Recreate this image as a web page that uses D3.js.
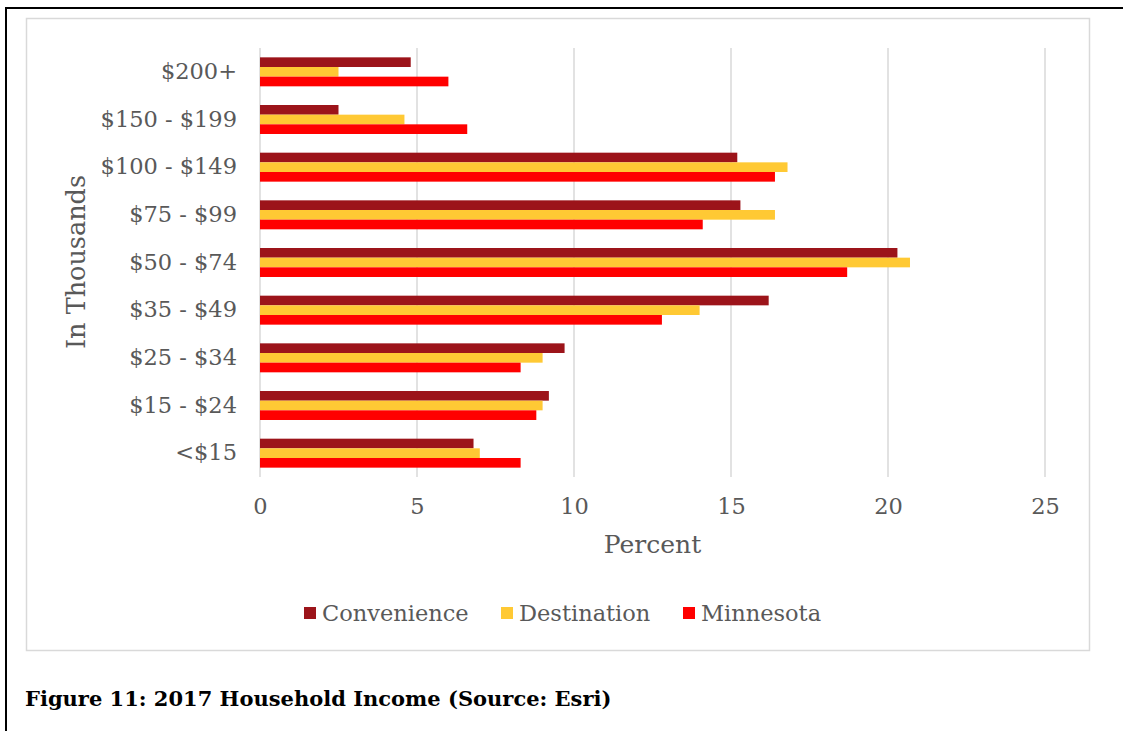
<!DOCTYPE html>
<html>
<head>
<meta charset="utf-8">
<script src="https://cdn.jsdelivr.net/npm/d3@7"></script>
<style>
  body { margin: 0; background: #fff; }
  text { font-family: "DejaVu Serif", serif; }
</style>
</head>
<body>
<div class="wrapper"></div>
<script>
const categories = ["$200+", "$150 - $199", "$100 - $149", "$75 - $99", "$50 - $74", "$35 - $49", "$25 - $34", "$15 - $24", "<$15"];
const seriesNames = ["Convenience", "Destination", "Minnesota"];
const convenience = [4.8, 2.5, 15.2, 15.3, 20.3, 16.2, 9.7, 9.2, 6.8];
const destination = [2.5, 4.6, 16.8, 16.4, 20.7, 14.0, 9.0, 9.0, 7.0];
const minnesota = [6.0, 6.6, 16.4, 14.1, 18.7, 12.8, 8.3, 8.8, 8.3];
const xTicks = [0, 5, 10, 15, 20, 25];
const colors = ["#9c141a", "#ffc934", "#ff0000"];

var width = 1123, height = 731;
var svg = d3.select(".wrapper").append("svg")
    .attr("width", width)
    .attr("height", height);

// page border and chart frame
svg.append("rect").attr("x", 6).attr("y", 8).attr("width", 1200).attr("height", 800)
    .attr("fill", "none").attr("stroke", "#000").attr("stroke-width", 2);
svg.append("rect").attr("x", 26.5).attr("y", 18.5).attr("width", 1063).attr("height", 632)
    .attr("fill", "#fff").attr("stroke", "#d9d9d9").attr("stroke-width", 1.5);

var plot = { left: 260, right: 1045, top: 48, bottom: 477 };

var x = d3.scaleLinear().domain([0, 25]).range([plot.left, plot.right]);
var y = d3.scaleBand().domain(categories).range([plot.top, plot.bottom])
    .paddingInner(0.392).paddingOuter(0.196);
var ySub = d3.scaleBand().domain(seriesNames).range([0, y.bandwidth()]);

// gridlines
svg.append("g").selectAll("line").data(xTicks).enter().append("line")
    .attr("x1", d => x(d)).attr("x2", d => x(d))
    .attr("y1", plot.top).attr("y2", plot.bottom)
    .attr("stroke", "#d9d9d9").attr("stroke-width", 1.5);

var rows = categories.map((c, i) => ({
  cat: c,
  vals: [convenience[i], destination[i], minnesota[i]]
}));

var groups = svg.append("g").selectAll("g").data(rows).enter().append("g")
    .attr("transform", d => "translate(0," + y(d.cat) + ")");

groups.selectAll("rect").data(d => d.vals.map((v, j) => ({ v: v, s: seriesNames[j], c: colors[j] })))
  .enter().append("rect")
    .attr("x", x(0))
    .attr("y", d => ySub(d.s))
    .attr("width", d => x(d.v) - x(0))
    .attr("height", ySub.bandwidth())
    .attr("fill", d => d.c);

// y axis labels
var yAxis = d3.axisLeft(y).tickSize(0).tickPadding(23);
var gy = svg.append("g").attr("transform", "translate(" + plot.left + ",0)").call(yAxis);
gy.select(".domain").remove();
gy.selectAll("text").attr("fill", "#595959").style("font-size", "22.5px")
    .style("font-family", "DejaVu Serif, serif");

// x axis labels
var xAxis = d3.axisBottom(x).tickValues(xTicks).tickSize(0).tickPadding(21);
var gx = svg.append("g").attr("transform", "translate(0," + plot.bottom + ")").call(xAxis);
gx.select(".domain").remove();
gx.selectAll("text").attr("fill", "#595959").style("font-size", "22.5px")
    .style("font-family", "DejaVu Serif, serif");

// axis titles
svg.append("text").attr("x", (plot.left + plot.right) / 2).attr("y", 553)
    .attr("text-anchor", "middle").attr("fill", "#595959").style("font-size", "25px")
    .text("Percent");
svg.append("text").attr("transform", "translate(85,262) rotate(-90)")
    .attr("text-anchor", "middle").attr("fill", "#595959").style("font-size", "25.5px")
    .text("In Thousands");

// legend
var legend = svg.append("g");
var lx = [304, 501, 683];
seriesNames.forEach((s, i) => {
  legend.append("rect").attr("x", lx[i]).attr("y", 607).attr("width", 12).attr("height", 12)
      .attr("fill", colors[i]);
  legend.append("text").attr("x", lx[i] + 18).attr("y", 620.5)
      .attr("fill", "#595959").style("font-size", "22.5px").text(s);
});

// caption
svg.append("text").attr("x", 25).attr("y", 706)
    .attr("fill", "#000").style("font-size", "21px").style("font-weight", "bold")
    .text("Figure 11: 2017 Household Income (Source: Esri)");
</script>
</body>
</html>
